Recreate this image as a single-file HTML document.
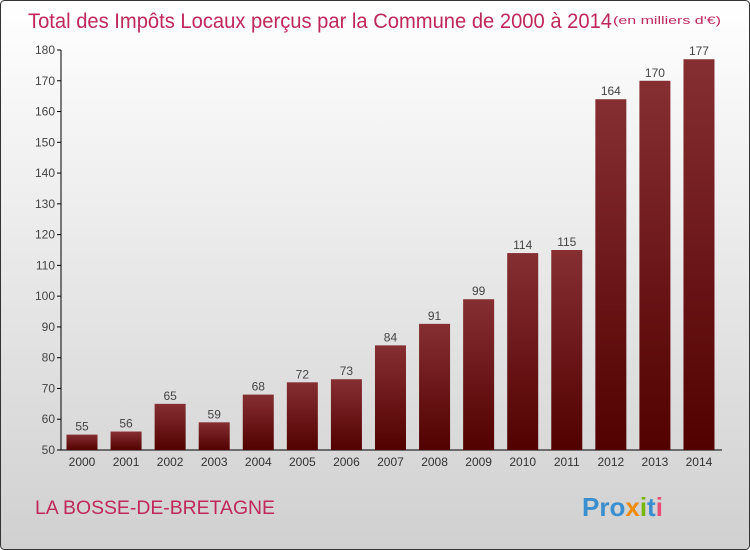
<!DOCTYPE html>
<html><head><meta charset="utf-8"><style>
body{margin:0;width:750px;height:550px;overflow:hidden}
svg{display:block;font-family:"Liberation Sans",sans-serif}
</style></head><body>
<svg width="750" height="550" viewBox="0 0 750 550">
<defs>
<linearGradient id="bg" x1="0" y1="0" x2="0" y2="1"><stop offset="0" stop-color="#ffffff"/><stop offset="1" stop-color="#d0d0d0"/></linearGradient>
<linearGradient id="bar" x1="0" y1="0" x2="0" y2="1"><stop offset="0" stop-color="#862f33"/><stop offset="1" stop-color="#520000"/></linearGradient>
</defs>
<rect x="0.5" y="0.5" width="749" height="549" rx="4" fill="url(#bg)" stroke="#333"/>
<text x="28" y="28" font-size="21" fill="#c0285a" textLength="584" lengthAdjust="spacingAndGlyphs">Total des Impôts Locaux perçus par la Commune de 2000 à 2014</text>
<text x="613" y="24" font-size="11" fill="#c0285a" textLength="108" lengthAdjust="spacingAndGlyphs">(en milliers d'€)</text>
<g id="axes"></g>
<g id="bars"></g>
<text x="35" y="514" font-size="19" fill="#c0285a" textLength="240" lengthAdjust="spacingAndGlyphs">LA BOSSE-DE-BRETAGNE</text>
<text x="582" y="516" font-size="26" font-weight="bold"><tspan fill="#3a8fd0">Pro</tspan><tspan fill="#f08a00">x</tspan><tspan fill="#7ab800">i</tspan><tspan fill="#3a8fd0">t</tspan><tspan fill="#e94e77">i</tspan></text>
</svg>
<script>
const years=["2000","2001","2002","2003","2004","2005","2006","2007","2008","2009","2010","2011","2012","2013","2014"];
const values=[55,56,65,59,68,72,73,84,91,99,114,115,164,170,177];
const yTicks=[50,60,70,80,90,100,110,120,130,140,150,160,170,180];
const NS="http://www.w3.org/2000/svg";
const y=v=>450-(v-50)*400/130;
const x=i=>82+i*44.07;
function mk(t,a,p,txt){const e=document.createElementNS(NS,t);for(const k in a)e.setAttribute(k,a[k]);if(txt!==undefined)e.textContent=txt;p.appendChild(e);return e;}
const ax=document.getElementById('axes'),bg=document.getElementById('bars');
const yl=mk('line',{x1:61,y1:50,x2:61,y2:450,stroke:'#000'},ax);


const xl=mk('line',{x1:61,y1:450,x2:722,y2:450,stroke:'#000'},ax);


yTicks.forEach(v=>{
 mk('line',{x1:57,y1:y(v),x2:61,y2:y(v),stroke:'#000'},ax);
 const t=mk('text',{x:55,y:y(v)+4,'font-size':12,'text-anchor':'end',fill:'#444'},ax,v);
 
 
});
years.forEach((yr,i)=>{
 const r=mk('rect',{x:x(i)-15.5,y:y(values[i]),width:31,height:450-y(values[i]),fill:'url(#bar)'},bg);
 
 
 const l=mk('text',{x:x(i),y:y(values[i])-4,'font-size':12,'text-anchor':'middle',fill:'#444'},bg,values[i]);
 
 
 const t=mk('text',{x:x(i),y:466,'font-size':12,'text-anchor':'middle',fill:'#333'},ax,yr);
 
 
});
</script>
</body></html>
